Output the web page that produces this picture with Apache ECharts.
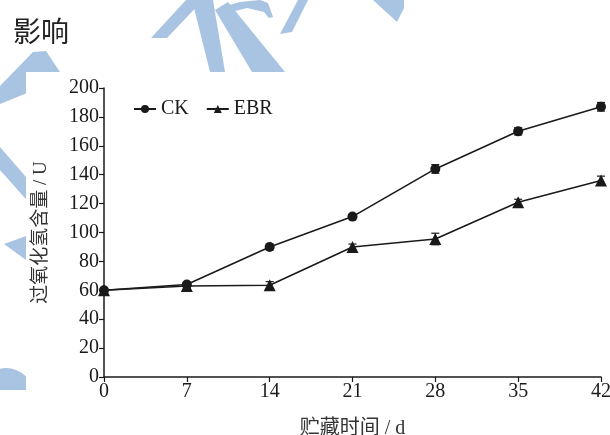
<!DOCTYPE html>
<html>
<head>
<meta charset="utf-8">
<script src="https://cdn.jsdelivr.net/npm/echarts@6/dist/echarts.min.js"></script>
<style>
  html, body { margin: 0; padding: 0; background: #fff; }
  #chart { width: 610px; height: 435px; }
</style>
</head>
<body>
<div id="chart"></div>
<script>
// Storage days and H2O2 content for the two treatments
const days = [0, 7, 14, 21, 28, 35, 42];
const ckValues = [60, 64, 90, 111, 144, 170, 187];
const ckErrors = [1.5, 1.5, 2, 1.5, 3, 2.5, 3];
const ebrValues = [60, 63, 63.5, 90, 95.5, 121, 136];
const ebrErrors = [1.5, 1.5, 2.5, 2, 4, 2, 3];
const yTicks = [0, 20, 40, 60, 80, 100, 120, 140, 160, 180, 200];

const serif = '"Liberation Serif", "Times New Roman", "Noto Sans CJK SC", serif';
const ink = '#1a1a1a';
const wm = '#a9c3e2';

function pairs(vals) { return days.map((d, i) => [d, vals[i]]); }
function errData(vals, errs) { return days.map((d, i) => [d, vals[i] - errs[i], vals[i] + errs[i]]); }

function errorBar(params, api) {
  const x = api.value(0);
  const lo = api.coord([x, api.value(1)]);
  const hi = api.coord([x, api.value(2)]);
  const w = 4;
  const style = { stroke: ink, lineWidth: 1.2, fill: null };
  return {
    type: 'group',
    children: [
      { type: 'line', shape: { x1: lo[0], y1: lo[1], x2: hi[0], y2: hi[1] }, style },
      { type: 'line', shape: { x1: lo[0] - w, y1: lo[1], x2: lo[0] + w, y2: lo[1] }, style },
      { type: 'line', shape: { x1: hi[0] - w, y1: hi[1], x2: hi[0] + w, y2: hi[1] }, style }
    ]
  };
}

const chart = echarts.init(document.getElementById('chart'), null, { renderer: 'canvas' });

// Decorative light-blue background strokes behind the plot panel
const bg = [
  { type: 'polygon', shape: { points: [[0,86],[33,52],[46,51],[64,78],[0,104]] } },
  { type: 'polygon', shape: { points: [[0,147],[32,184],[32,206],[0,170]] } },
  { type: 'polygon', shape: { points: [[4,244],[26,236],[26,260]] } },
  { type: 'circle', shape: { cx: 6, cy: 396, r: 28 } },
  { type: 'polygon', shape: { points: [[151,38],[167,38],[203,0],[186,0]] } },
  { type: 'polygon', shape: { points: [[192,0],[213,0],[225,72],[210,72]] } },
  { type: 'polygon', shape: { points: [[215,10],[228,2],[285,72],[252,72]] } },
  { type: 'polygon', shape: { points: [[222,7],[240,2],[260,0],[268,3],[273,17],[269,18],[264,12],[247,8],[227,13]] } },
  { type: 'polygon', shape: { points: [[280,34],[292,32],[308,0],[298,0]] } },
  { type: 'polygon', shape: { points: [[373,0],[404,0],[404,8],[397,22]] } }
].map(s => Object.assign(s, { style: { fill: wm }, z: -10, silent: true }));

chart.setOption({
  backgroundColor: '#fff',
  animation: false,
  graphic: bg.concat([
    { type: 'rect', shape: { x: 26, y: 72, width: 600, height: 400 }, style: { fill: '#fff' }, z: -5, silent: true },
    { type: 'rect', shape: { x: 0, y: 390, width: 30, height: 60 }, style: { fill: '#fff' }, z: -5, silent: true },
    { type: 'text', left: 13, top: 17, z: 5,
      style: { text: '影响', fill: '#222', font: '28px "Noto Sans CJK SC", serif' } }
  ]),
  legend: {
    left: 128, top: 94,
    itemGap: 17, itemWidth: 22, itemHeight: 10,
    textStyle: { fontFamily: serif, fontSize: 20, color: ink },
    data: ['CK', 'EBR']
  },
  grid: { left: 104, right: 9, top: 88, bottom: 58, containLabel: false, outerBoundsMode: 'none' },
  xAxis: {
    type: 'value', min: 0, max: 42, interval: 7,
    name: '贮藏时间 / d', nameLocation: 'middle', nameGap: 42,
    nameTextStyle: { fontFamily: serif, fontSize: 20, color: '#333' },
    axisLine: { lineStyle: { color: ink, width: 1.5 } },
    axisTick: { inside: false, length: 5, lineStyle: { color: ink, width: 1.2 } },
    axisLabel: { fontFamily: serif, fontSize: 20, color: ink, margin: 5 },
    splitLine: { show: false }
  },
  yAxis: {
    type: 'value', min: 0, max: 200, interval: 20,
    name: '过氧化氢含量 / U', nameLocation: 'middle', nameGap: 53,
    nameTextStyle: { fontFamily: serif, fontSize: 19, color: '#333' },
    axisLine: { show: true, lineStyle: { color: ink, width: 1.5 } },
    axisTick: { show: true, inside: false, length: 5, lineStyle: { color: ink, width: 1.2 } },
    axisLabel: { fontFamily: serif, fontSize: 20, color: ink, margin: 5,
      formatter: v => yTicks.includes(v) ? String(v) : '' },
    splitLine: { show: false }
  },
  series: [
    {
      name: 'CK', type: 'line', data: pairs(ckValues),
      symbol: 'circle', symbolSize: 10,
      lineStyle: { color: ink, width: 1.6 },
      itemStyle: { color: ink }, z: 3
    },
    {
      name: 'EBR', type: 'line', data: pairs(ebrValues),
      symbol: 'triangle', symbolSize: 12,
      lineStyle: { color: ink, width: 1.6 },
      itemStyle: { color: ink }, z: 3
    },
    { type: 'custom', renderItem: errorBar, data: errData(ckValues, ckErrors), z: 4, silent: true },
    { type: 'custom', renderItem: errorBar, data: errData(ebrValues, ebrErrors), z: 4, silent: true }
  ]
});
</script>
</body>
</html>
